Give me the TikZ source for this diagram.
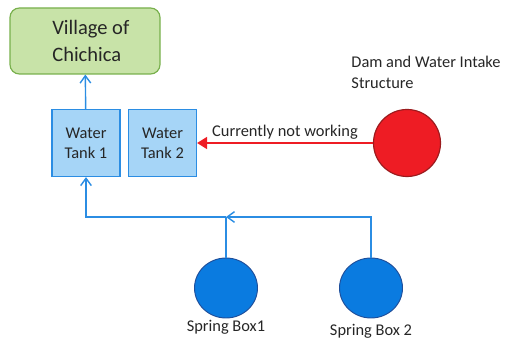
\documentclass[tikz,border=0pt]{standalone}
\usepackage{fontspec}
\setmainfont{Carlito}
\usepackage{tikz}
\usetikzlibrary{shapes.geometric, arrows.meta, positioning}

\definecolor{pipeblue}{HTML}{2B8DE3}
\definecolor{tankfill}{HTML}{A6D5F7}
\definecolor{springfill}{HTML}{0A7BE0}
\definecolor{springline}{HTML}{1F4E9A}
\definecolor{villagefill}{HTML}{C8E3A8}
\definecolor{villageline}{HTML}{78B04C}
\definecolor{damfill}{HTML}{EE1C24}
\definecolor{damline}{HTML}{9B1B1E}

\begin{document}
\begin{tikzpicture}[
    village/.style={rectangle, rounded corners=8pt, draw=villageline, line width=1pt, fill=villagefill, minimum width=4.5cm, minimum height=1.98cm, align=left, font=\fontsize{17.5}{23}\selectfont, text=black!85},
    tank/.style={rectangle, draw=pipeblue, line width=1pt, fill=tankfill, minimum width=2.04cm, minimum height=2.01cm, align=center, font=\fontsize{14}{17}\selectfont, text=black!85},
    dam/.style={circle, draw=damline, line width=1pt, fill=damfill, minimum size=2.01cm},
    spring/.style={ellipse, draw=springline, line width=0.8pt, fill=springfill, minimum width=1.89cm, minimum height=1.8cm},
    label/.style={font=\fontsize{14}{18.5}\selectfont, text=black!85, align=left},
    pipe/.style={-{Straight Barb[length=2.2mm, width=3.2mm]}, draw=pipeblue, line width=1.2pt},
    redpipe/.style={-{Triangle[length=3mm, width=3.6mm]}, draw=damfill, line width=1.5pt}
]
\useasboundingbox (0,0) rectangle (15.54,10.17);
\node[village] (vil) at (2.55,8.94) {\hspace*{0.35cm}Village of\\\hspace*{0.35cm}Chichica};
\node[tank] (t1) at (2.58,5.88) {Water\\Tank 1};
\node[tank] (t2) at (4.875,5.88) {Water\\Tank 2};
\node[dam] (dam) at (12.21,5.88) {};
\node[label, anchor=north west] (damlbl) at (10.42,8.62) {Dam and Water Intake\\Structure};
\node[spring] (sb1) at (6.78,1.53) {};
\node[spring] (sb2) at (11.13,1.53) {};
\node[label, below=-0.08cm of sb1] (sb1lbl) {Spring Box1};
\node[label, below=0.04cm of sb2] (sb2lbl) {Spring Box 2};
\coordinate (j) at (6.78,3.66);

\draw[pipe] (t1) -- (vil);
\draw[pipe] (sb2) |- (j);
\draw[pipeblue, line width=1.2pt] (sb1) -- (j);
\draw[pipe] (j) -| (t1);
\draw[redpipe] (dam) -- node[above, label, yshift=-1pt] {Currently not working} (t2);
\end{tikzpicture}
\end{document}
